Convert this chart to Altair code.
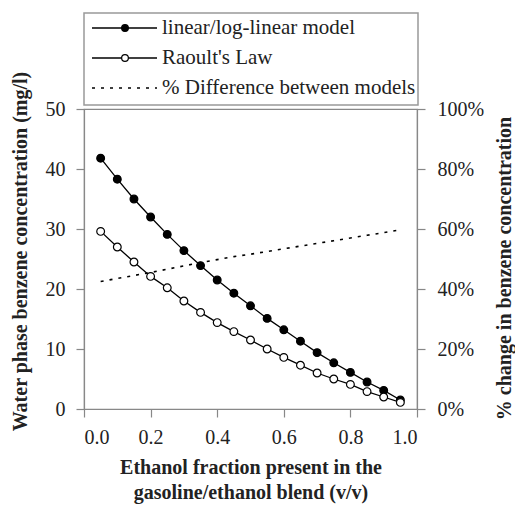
import altair as alt
import pandas as pd

ethanol = [0.05, 0.10, 0.15, 0.20, 0.25, 0.30, 0.35, 0.40, 0.45, 0.50,
           0.55, 0.60, 0.65, 0.70, 0.75, 0.80, 0.85, 0.90, 0.95]
linear_model = [41.8, 38.3, 35.0, 32.0, 29.1, 26.4, 23.9, 21.5, 19.3, 17.2,
                15.1, 13.2, 11.3, 9.4, 7.7, 6.1, 4.5, 3.1, 1.5]
raoult = [29.6, 27.0, 24.5, 22.1, 20.2, 18.0, 16.1, 14.4, 12.9, 11.5,
          10.0, 8.6, 7.3, 6.0, 5.0, 4.1, 2.9, 2.0, 1.1]
pct_diff = [0.425, 0.435, 0.445, 0.455, 0.466, 0.477, 0.488, 0.498, 0.508, 0.516,
            0.525, 0.534, 0.543, 0.552, 0.561, 0.570, 0.579, 0.588, 0.597]
series_names = ["linear/log-linear model", "Raoult's Law", "% Difference between models"]
x_ticks = [0.0, 0.2, 0.4, 0.6, 0.8, 1.0]
y_ticks = [0, 10, 20, 30, 40, 50]
y2_ticks = [0.0, 0.2, 0.4, 0.6, 0.8, 1.0]

FONT = "Liberation Serif"

long_rows = []
for xv, a, b in zip(ethanol, linear_model, raoult):
    long_rows.append({"x": xv, "value": a, "series": series_names[0]})
    long_rows.append({"x": xv, "value": b, "series": series_names[1]})
df_long = pd.DataFrame(long_rows)
df_pct = pd.DataFrame({"x": ethanol, "pct": pct_diff})

x_enc = alt.X("x:Q", scale=alt.Scale(domain=[0, 1], nice=False),
              axis=alt.Axis(values=x_ticks, format=".1f",
                            title=["Ethanol fraction present in the", "gasoline/ethanol blend (v/v)"],
                            tickSize=8, labelPadding=10, titlePadding=10,
                            titleLineHeight=25))

y_left = alt.Y("value:Q", scale=alt.Scale(domain=[0, 50], nice=False),
               axis=alt.Axis(values=y_ticks, title="Water phase benzene concentration (mg/l)",
                             tickSize=8, labelPadding=11,
                             titleAngle=-90, titleX=-64, titleY=142,
                             titleAlign="center", titleBaseline="middle"))

lines = alt.Chart(df_long).mark_line(color="black", strokeWidth=1.3).encode(
    x=x_enc, y=y_left, detail="series:N")
points = alt.Chart(df_long).mark_point(filled=False, shape="circle", size=60,
                                       stroke="black", strokeWidth=1.2, opacity=1).encode(
    x="x:Q", y="value:Q",
    fill=alt.Fill("series:N", scale=alt.Scale(domain=series_names[:2], range=["black", "white"]),
                  legend=None))
left = alt.layer(lines, points)

right = alt.Chart(df_pct).mark_line(color="black", strokeWidth=1.6, strokeDash=[3, 6]).encode(
    x="x:Q",
    y=alt.Y("pct:Q", scale=alt.Scale(domain=[0, 1], nice=False),
            axis=alt.Axis(orient="right", values=y2_ticks, format=".0%",
                          title="% change in benzene concentration",
                          tickSize=8, labelPadding=12,
                          titleAngle=-90, titleX=87, titleY=159,
                          titleAlign="center", titleBaseline="middle")))

one = pd.DataFrame({"k": [0]})
row_y = [-81, -51, -21]
legend_box = alt.Chart(one).mark_rect(fill="white", stroke="#999", strokeWidth=1.5).encode(
    x=alt.value(0), x2=alt.value(334), y=alt.value(-96), y2=alt.value(-4))
legend_layers = [legend_box]
for i, name in enumerate(series_names):
    if i < 2:
        legend_layers.append(alt.Chart(one).mark_rule(color="black", strokeWidth=1.3).encode(
            x=alt.value(8), x2=alt.value(73), y=alt.value(row_y[i])))
        legend_layers.append(alt.Chart(one).mark_point(shape="circle", size=45, stroke="black",
                                                       strokeWidth=1.2, opacity=1,
                                                       fill="black" if i == 0 else "white").encode(
            x=alt.value(41), y=alt.value(row_y[i])))
    else:
        legend_layers.append(alt.Chart(one).mark_rule(color="black", strokeWidth=1.5,
                                                      strokeDash=[3, 6]).encode(
            x=alt.value(8), x2=alt.value(73), y=alt.value(row_y[i])))
    legend_layers.append(alt.Chart(one).mark_text(align="left", baseline="middle", font=FONT,
                                                  fontSize=21, color="#222").encode(
        x=alt.value(78), y=alt.value(row_y[i]), text=alt.value(name)))

chart = alt.layer(left, right, *legend_layers).resolve_scale(
    y="independent", fill="independent"
).properties(
    width=333, height=300,
    autosize=alt.AutoSizeParams(type="none"),
    padding={"left": 76, "top": 101, "right": 98, "bottom": 103},
).configure_view(stroke="#888", strokeWidth=1.2).configure_axis(
    grid=False, domainColor="#888", tickColor="#888", domainWidth=1.2, tickWidth=1.2,
    labelFont=FONT, labelFontSize=20, labelColor="#222",
    titleFont=FONT, titleFontSize=20, titleFontWeight="bold", titleColor="#222",
)

chart.save("out.html", embed_options={"renderer": "svg", "actions": False})
